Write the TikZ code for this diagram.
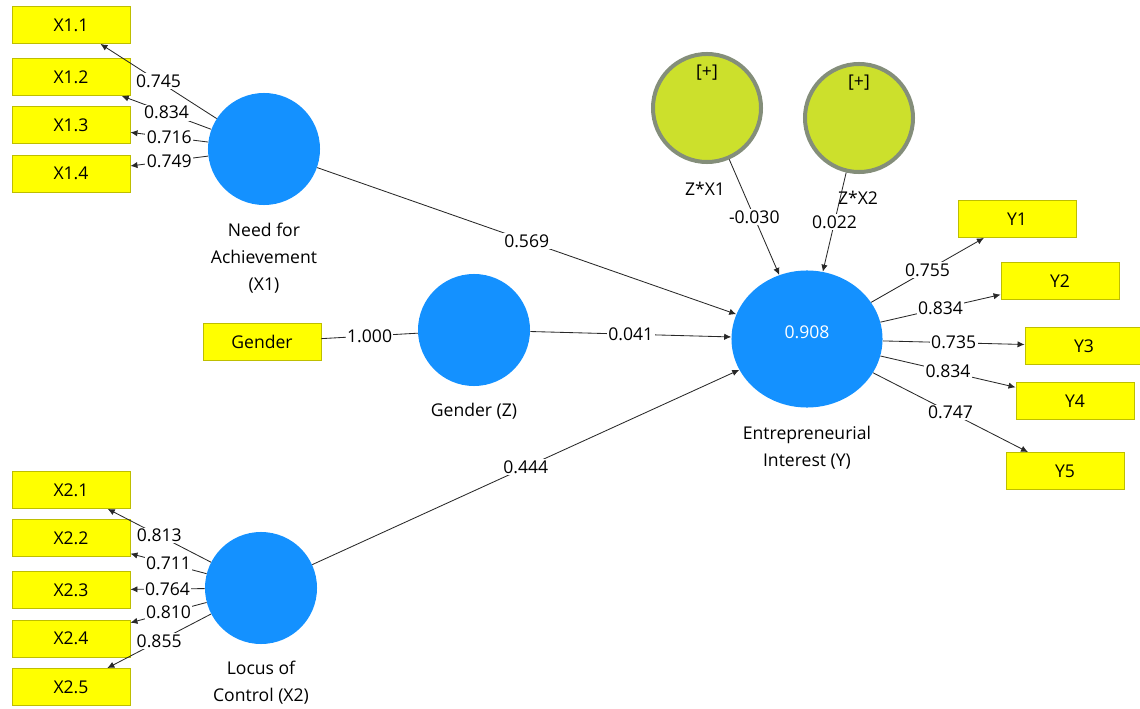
\documentclass[tikz,border=0pt]{standalone}
\usepackage{fontspec}
\setmainfont{Open Sans}
\usetikzlibrary{arrows.meta,shapes.geometric}

\definecolor{lvblue}{RGB}{20,145,255}
\definecolor{mvyellow}{RGB}{255,255,0}
\definecolor{mvedge}{RGB}{190,190,0}
\definecolor{modfill}{RGB}{204,224,44}
\definecolor{modedge}{RGB}{132,142,122}
\definecolor{pathgray}{RGB}{40,40,40}

\tikzset{
  mvbox/.style={draw=mvedge, fill=mvyellow, line width=0.6pt,
    minimum width=2.95cm, minimum height=0.925cm, inner sep=0pt},
  lvcirc/.style={circle, fill=lvblue, minimum size=2.8cm, inner sep=0pt},
  modcirc/.style={circle, fill=modfill, draw=modedge, line width=0.1cm,
    minimum size=2.7cm, inner sep=0pt},
  lvname/.style={align=center, inner sep=0pt},
  coef/.style={fill=white, inner sep=1pt},
  plain/.style={draw=pathgray, line width=0.6pt},
  arr/.style={plain, -{Latex[length=5pt,width=4.5pt]}},
}

\begin{document}
\begin{tikzpicture}[x=0.025cm, y=-0.025cm, font=\fontsize{12.5}{19}\selectfont]

\useasboundingbox (0,0) rectangle (1140,709);

% indicators of X1
\node[mvbox] (x11) at (71,25) {X1.1};
\node[mvbox] (x12) at (71,77) {X1.2};
\node[mvbox] (x13) at (71,125) {X1.3};
\node[mvbox] (x14) at (71,173.5) {X1.4};

% indicators of X2
\node[mvbox] (x21) at (71,490) {X2.1};
\node[mvbox] (x22) at (71,538) {X2.2};
\node[mvbox] (x23) at (71,590) {X2.3};
\node[mvbox] (x24) at (71,638.5) {X2.4};
\node[mvbox] (x25) at (71,687) {X2.5};

\node[mvbox] (gend) at (262,342) {Gender};

% indicators of Y
\node[mvbox] (y1) at (1017,219) {Y1};
\node[mvbox] (y2) at (1060,281) {Y2};
\node[mvbox] (y3) at (1084,346) {Y3};
\node[mvbox] (y4) at (1075,401) {Y4};
\node[mvbox] (y5) at (1065,471) {Y5};

% latent variables
\node[lvcirc] (nach) at (264,149) {};
\node[lvcirc] (gendz) at (474,330) {};
\node[lvcirc] (loc) at (261,588) {};
\node[ellipse, fill=lvblue, minimum width=3.775cm, minimum height=3.425cm, inner sep=0pt,
  label={[text=white, yshift=0.175cm]center:0.908}] (entr) at (807,339) {};

\node[modcirc, label={[yshift=0.875cm]center:{[+]}}] (zx1) at (707,108) {};
\node[modcirc, label={[yshift=0.875cm]center:{[+]}}] (zx2) at (859,118) {};

% names
\node[lvname] (nachname) at (264,258) {Need for\\Achievement\\(X1)};
\node[lvname] (gendzname) at (474,411) {Gender (Z)};
\node[lvname] (locname) at (261,683) {Locus of\\Control (X2)};
\node[lvname] (entrname) at (807,448) {Entrepreneurial\\Interest (Y)};
\node[lvname] (zx1name) at (705,189) {Z*X1};
\node[lvname] (zx2name) at (858,198) {Z*X2};

% outer loadings
\draw[arr] (nach) -- node[coef] {0.745} (x11);
\draw[arr] (nach) -- node[coef] {0.834} (x12);
\draw[arr] (nach) -- node[coef] {0.716} (x13);
\draw[arr] (nach) -- node[coef] {0.749} (x14);

\draw[arr] (loc) -- node[coef] {0.813} (x21);
\draw[arr] (loc) -- node[coef] {0.711} (x22);
\draw[arr] (loc) -- node[coef] {0.764} (x23);
\draw[arr] (loc) -- node[coef] {0.810} (x24);
\draw[arr] (loc) -- node[coef] {0.855} (x25);

\draw[plain] (gend) -- node[coef] {1.000} (gendz);

\draw[arr] (entr) -- node[coef] {0.755} (y1);
\draw[arr] (entr) -- node[coef] {0.834} (y2);
\draw[arr] (entr) -- node[coef] {0.735} (y3);
\draw[arr] (entr) -- node[coef] {0.834} (y4);
\draw[arr] (entr) -- node[coef] {0.747} (y5);

% path coefficients
\draw[arr] (nach) -- node[coef] {0.569} (entr);
\draw[arr] (gendz) -- node[coef] {0.041} (entr);
\draw[arr] (loc) -- node[coef] {0.444} (entr);
\draw[arr] (zx1) -- node[coef] {-0.030} (entr);
\draw[arr] (zx2) -- node[coef] {0.022} (entr);

\end{tikzpicture}
\end{document}
